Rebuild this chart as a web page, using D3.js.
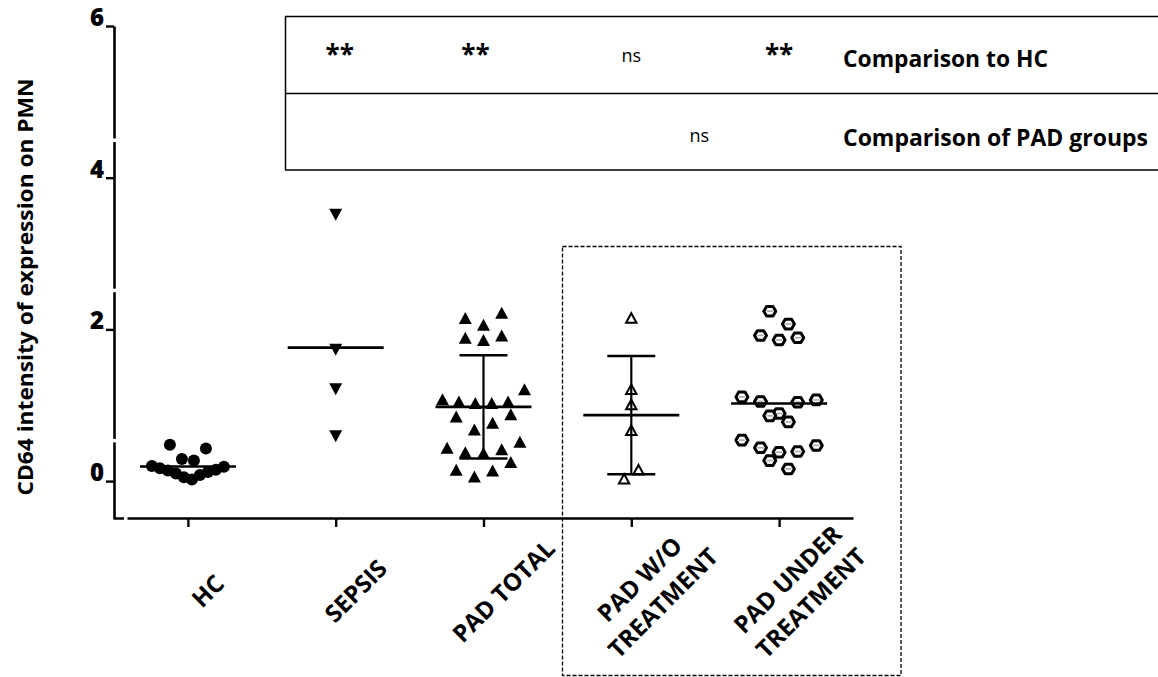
<!DOCTYPE html>
<html>
<head>
<meta charset="utf-8">
<script src="https://cdn.jsdelivr.net/npm/d3@7"></script>
<style>
  html, body { margin: 0; padding: 0; background: #fff; }
  svg { display: block; }
  text { font-family: "Open Sans", "DejaVu Sans", sans-serif; fill: #000; }
</style>
</head>
<body>
<svg id="chart" width="1158" height="677"></svg>
<script>
// ---- data ----
const groups = ["HC", "SEPSIS", "PAD TOTAL", "PAD W/O TREATMENT", "PAD UNDER TREATMENT"];
const groupLabelLines = [["HC"], ["SEPSIS"], ["PAD TOTAL"], ["PAD W/O", "TREATMENT"], ["PAD UNDER", "TREATMENT"]];

const hcValues = [0.48, 0.43, 0.29, 0.27, 0.20, 0.19, 0.17, 0.15, 0.14, 0.12, 0.10, 0.08, 0.05, 0.02];
const sepsisValues = [3.51, 1.73, 1.21, 0.59];
const padTotalValues = [2.22, 2.15, 2.06, 1.92, 1.86, 1.89, 1.21, 1.05, 1.03, 1.03, 1.05, 1.08,
                        0.85, 0.88, 0.68, 0.77, 0.44, 0.38, 0.37, 0.42, 0.52, 0.15, 0.06, 0.14, 0.25];
const padWithoutTreatmentValues = [2.15, 1.21, 1.01, 0.67, 0.15, 0.03];
const padUnderTreatmentValues = [2.24, 2.07, 1.92, 1.86, 1.89, 1.11, 1.05, 1.04, 1.07, 0.89, 0.86, 0.78,
                                 0.47, 0.54, 0.38, 0.44, 0.39, 0.27, 0.16];
const groupValues = [hcValues, sepsisValues, padTotalValues, padWithoutTreatmentValues, padUnderTreatmentValues];
const showSdBars = [false, false, true, true, false];

const yTicks = [0, 2, 4, 6];
const yTitle = "CD64 intensity of expression on PMN";
const vsHcMarks = ["**", "**", "ns", "**"];          // SEPSIS, PAD TOTAL, PAD W/O, PAD UNDER vs HC
const padGroupsMark = "ns";                          // PAD W/O vs PAD UNDER
const rowTitles = ["Comparison to HC", "Comparison of PAD groups"];

// ---- drawing styles per group (marker shape and scatter spacing in px) ----
const markerStyle = [
  { shape: "circle",  rowSpan: 16.5, spacing: 12,   maxHalf: 36, side: -1 },
  { shape: "triDown", rowSpan: 12,   spacing: 14,   maxHalf: 40, side: 1 },
  { shape: "triUp",   rowSpan: 15.8, spacing: 18.2, maxHalf: 41, side: 1 },
  { shape: "triOpen", rowSpan: 13,   spacing: 14.4, maxHalf: 40, side: 1 },
  { shape: "hexOpen", rowSpan: 17,   spacing: 18.6, maxHalf: 41, side: -1 }
];

const svg = d3.select("#chart");
const W = 1158;

const y = d3.scaleLinear().domain([-0.5, 6]).range([519, 26]);
const x = d3.scalePoint().domain(groups).range([114, 853]).padding(0.5);

// ---- statistics table above the plot ----
const table = svg.append("g");
table.append("rect")
  .attr("x", 285.5).attr("y", 16.5).attr("width", W).attr("height", 153.5)
  .attr("fill", "none").attr("stroke", "#000").attr("stroke-width", 1.5);
table.append("line")
  .attr("x1", 285.5).attr("x2", W + 5).attr("y1", 93.5).attr("y2", 93.5)
  .attr("stroke", "#000").attr("stroke-width", 1.5);

vsHcMarks.forEach((m, i) => {
  const isStar = m.includes("*");
  table.append("text")
    .attr("x", x(groups[i + 1]) + (i === 0 ? 4 : i === 1 ? -8 : 0))
    .attr("y", isStar ? 64 : 62)
    .attr("text-anchor", "middle")
    .attr("font-size", isStar ? 26 : 18)
    .attr("font-weight", isStar ? 700 : 400)
    .text(m);
});
table.append("text")
  .attr("x", (x(groups[3]) + x(groups[4])) / 2 - 6)
  .attr("y", 142)
  .attr("text-anchor", "middle")
  .attr("font-size", 18)
  .text(padGroupsMark);

const titleLengths = [205, 305];
rowTitles.forEach((t, i) => {
  table.append("text")
    .attr("x", 843).attr("y", i === 0 ? 66.5 : 145.5)
    .attr("font-size", 23).attr("font-weight", 700)
    .attr("textLength", titleLengths[i]).attr("lengthAdjust", "spacingAndGlyphs")
    .text(t);
});

// ---- dashed frame around the two PAD subgroups ----
svg.append("rect")
  .attr("x", 562.5).attr("y", 246.5).attr("width", 338.5).attr("height", 429)
  .attr("fill", "none").attr("stroke", "#000").attr("stroke-width", 1.3)
  .attr("stroke-dasharray", "4,2");

// ---- axes ----
const yAxis = svg.append("g")
  .attr("transform", "translate(114,0)")
  .call(d3.axisLeft(y).tickValues(yTicks).tickSize(8).tickSizeOuter(0).tickPadding(2).tickFormat(d3.format("d")));
yAxis.select(".domain").attr("stroke-width", 2.6);
yAxis.selectAll(".tick line").attr("stroke-width", 2.4);
yAxis.selectAll(".tick text")
  .attr("dy", null).attr("y", -0.5)
  .attr("font-size", 24).attr("font-weight", 800).attr("fill", "#000");

const xAxis = svg.append("g")
  .attr("transform", "translate(0,518)")
  .call(d3.axisBottom(x).tickSize(9).tickSizeOuter(0).tickFormat(""));
xAxis.select(".domain").attr("stroke-width", 2.6);
xAxis.selectAll(".tick line").attr("stroke-width", 2.4);
xAxis.selectAll(".tick text").remove();

// small breaks in the axis lines
const yBreaks = [4.49, 2.51, 0.53];
yBreaks.forEach(v => {
  svg.append("rect").attr("x", 110).attr("y", y(v) - 2).attr("width", 9).attr("height", 3.5).attr("fill", "#fff");
});
svg.append("rect").attr("x", 124).attr("y", 514).attr("width", 3.5).attr("height", 9).attr("fill", "#fff");

// ---- y title ----
svg.append("text")
  .attr("transform", "translate(25,287) rotate(-90)")
  .attr("text-anchor", "middle").attr("dominant-baseline", "central")
  .attr("font-size", 21).attr("font-weight", 700)
  .attr("textLength", 417).attr("lengthAdjust", "spacingAndGlyphs")
  .text(yTitle);

// ---- category labels ----
groups.forEach((g, i) => {
  const lines = groupLabelLines[i];
  const t = svg.append("text")
    .attr("transform", `translate(${x(g) + 20},591) rotate(-45)`)
    .attr("text-anchor", "middle")
    .attr("font-size", 24).attr("font-weight", 700);
  lines.forEach((ln, k) => {
    t.append("tspan")
      .attr("x", 0)
      .attr("y", (k - (lines.length - 1) / 2) * 33)
      .attr("dy", "0.36em")
      .text(ln);
  });
});

// ---- scatter layout: points that fall in the same band are spread side by side ----
function rowOffsets(vals, style) {
  const order = d3.range(vals.length).sort((a, b) => vals[b] - vals[a]);
  const out = new Array(vals.length).fill(0);
  let row = [];
  let startY = null;
  const flush = () => {
    const n = row.length;
    const s = n > 1 ? Math.min(style.spacing, 2 * style.maxHalf / (n - 1)) : 0;
    const slots = d3.range(n).map(k => (k - (n - 1) / 2) * s * style.side);
    const seq = [];
    let lo = 0, hi = n - 1;
    while (lo <= hi) {
      seq.push(slots[hi--]);
      if (lo <= hi) seq.push(slots[lo++]);
    }
    row.forEach((idx, k) => { out[idx] = seq[k]; });
    row = [];
  };
  for (const i of order) {
    const py = y(vals[i]);
    if (row.length && py - startY > style.rowSpan) flush();
    if (!row.length) startY = py;
    row.push(i);
  }
  flush();
  return out;
}

function drawMarker(sel, shape) {
  if (shape === "circle") {
    sel.append("circle").attr("r", 6).attr("fill", "#000");
  } else if (shape === "triUp") {
    sel.append("path").attr("d", "M0,-6L6.5,6L-6.5,6Z").attr("fill", "#000");
  } else if (shape === "triDown") {
    sel.append("path").attr("d", "M-6.5,-6L6.5,-6L0,6Z").attr("fill", "#000");
  } else if (shape === "triOpen") {
    sel.append("path").attr("d", "M0,-4.8L5.2,4.8L-5.2,4.8Z")
      .attr("fill", "#fff").attr("stroke", "#000").attr("stroke-width", 2).attr("stroke-linejoin", "miter");
  } else if (shape === "hexOpen") {
    sel.append("path").attr("d", "M-6,0L-3.2,-4.8L3.2,-4.8L6,0L3.2,4.8L-3.2,4.8Z")
      .attr("fill", "#fff").attr("stroke", "#000").attr("stroke-width", 3).attr("stroke-linejoin", "round");
    sel.append("line").attr("x1", -3).attr("x2", 3).attr("y1", 0).attr("y2", 0)
      .attr("stroke", "#aaa").attr("stroke-width", 1.6);
  }
}

const plot = svg.append("g");
groups.forEach((g, gi) => {
  const vals = groupValues[gi];
  const offs = rowOffsets(vals, markerStyle[gi]);
  const cx = x(g);
  plot.append("g").selectAll("g").data(vals).join("g")
    .attr("transform", (d, i) => `translate(${cx + offs[i]},${y(d)})`)
    .each(function () { drawMarker(d3.select(this), markerStyle[gi].shape); });

  const mean = d3.mean(vals);
  const stats = plot.append("g").attr("stroke", "#000");
  stats.append("line")
    .attr("x1", cx - 48).attr("x2", cx + 48).attr("y1", y(mean)).attr("y2", y(mean))
    .attr("stroke-width", 2.6);
  if (showSdBars[gi]) {
    const sd = d3.deviation(vals);
    stats.append("line").attr("x1", cx).attr("x2", cx).attr("y1", y(mean + sd)).attr("y2", y(mean - sd))
      .attr("stroke-width", 2.2);
    [mean + sd, mean - sd].forEach(v => {
      stats.append("line").attr("x1", cx - 24).attr("x2", cx + 24).attr("y1", y(v)).attr("y2", y(v))
        .attr("stroke-width", 2.6);
    });
  }
});
</script>
</body>
</html>
